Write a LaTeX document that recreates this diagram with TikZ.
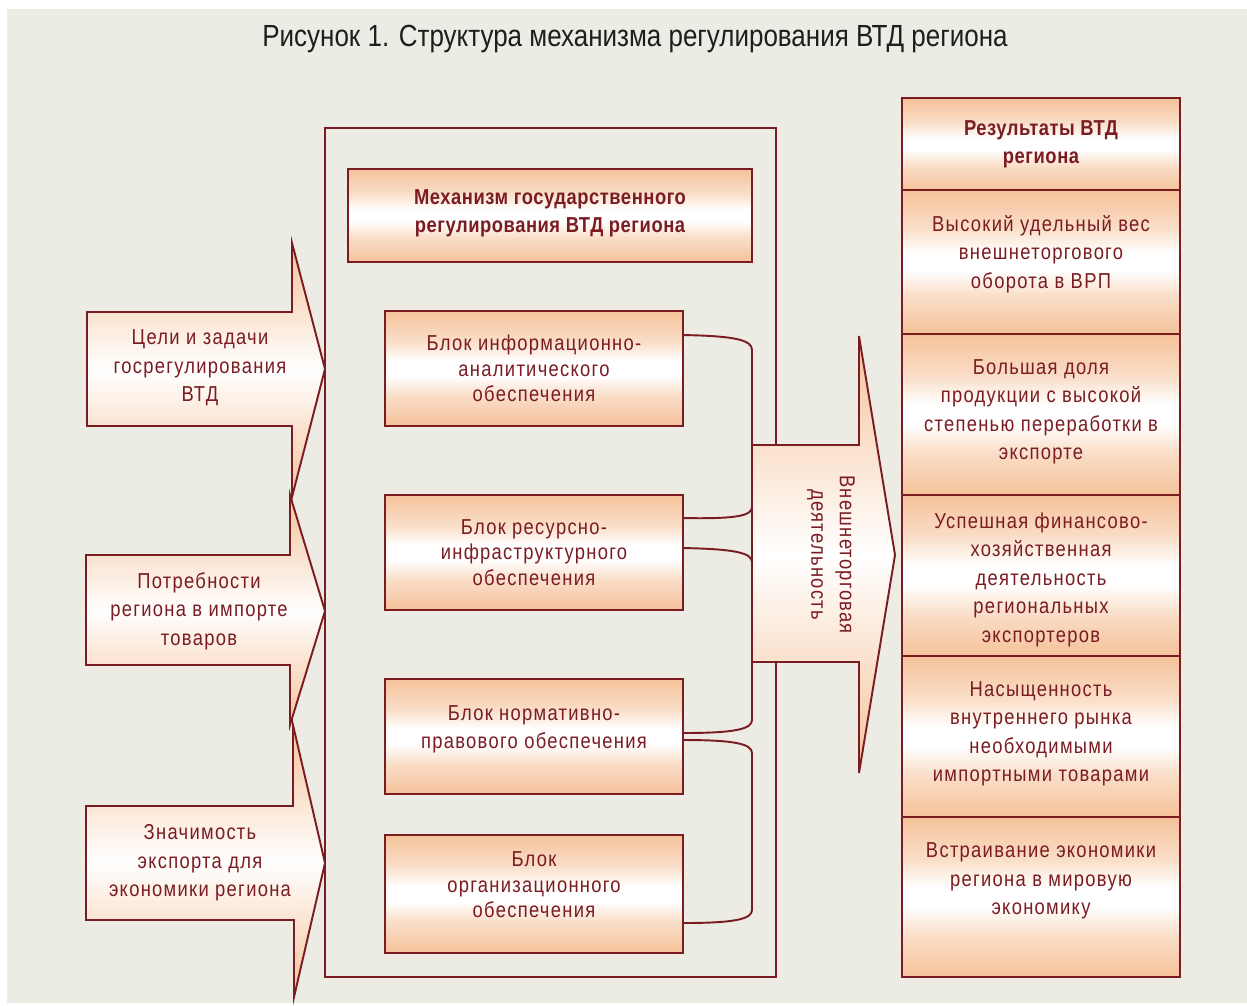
\documentclass[tikz,border=0pt]{standalone}
\usepackage{fontspec}
\setmainfont[FakeStretch=0.85]{Liberation Sans}
\newfontfamily\boxfont[FakeStretch=0.85,LetterSpace=6]{Liberation Sans}
\newfontfamily\headfont[FakeStretch=0.85,LetterSpace=2.5]{Liberation Sans}

\definecolor{dred}{HTML}{7A1C22}
\definecolor{peach}{HTML}{F5C29A}
\definecolor{bgbeige}{HTML}{ECECE4}
\definecolor{titlegray}{HTML}{1E1E1E}

\pgfdeclareverticalshading{peachband}{100bp}{color(0bp)=(peach); color(25bp)=(peach);
  color(38bp)=(peach!55!white); color(47bp)=(white); color(53bp)=(white);
  color(62bp)=(peach!55!white); color(75bp)=(peach); color(100bp)=(peach)}

\tikzset{
  box/.style={draw=dred, line width=1.1pt, shading=peachband, text=dred,
    align=center, inner sep=0pt, font=\boxfont\fontsize{12.3}{16.2}\selectfont},
  blockbox/.style={box, minimum width=5.96cm, minimum height=2.3cm,
    font=\boxfont\fontsize{12.3}{14.6}\selectfont},
  resbox/.style={box, minimum width=5.56cm},
  headbox/.style={box, font=\headfont\bfseries\fontsize{12.3}{16}\selectfont},
  goalarrow/.style={draw=dred, line width=1.1pt, top color=peach,
    bottom color=peach, middle color=white},
  boxtext/.style={text=dred, align=center, font=\boxfont\fontsize{12.3}{16.2}\selectfont},
  link/.style={draw=dred, line width=1.1pt}
}

\begin{document}
\begin{tikzpicture}[x=0.02cm, y=-0.02cm]
    \useasboundingbox (0,0) rectangle (1247,1005);
    \fill[bgbeige] (7,9) rectangle (1247,1003);

    \node[text=titlegray, font=\fontsize{17.4}{20}\selectfont] (title) at (635,39)
        {Рисунок 1. Структура механизма регулирования ВТД региона};

    % left arrows
    \path[goalarrow] (87,312) -- (292,312) -- (292,243) -- (325,369) -- (292,497) -- (292,426) -- (87,426) -- cycle;
    \path[goalarrow] (86,555) -- (290,555) -- (290,495) -- (325,611) -- (290,725) -- (290,665) -- (86,665) -- cycle;
    \path[goalarrow] (86,806) -- (293,806) -- (293,725) -- (325,863) -- (294,997) -- (294,920) -- (86,920) -- cycle;
    \node[boxtext] (goals) at (200,368) {Цели и задачи\\госрегулирования\\ВТД};
    \node[boxtext] (needs) at (199,611) {Потребности\\региона в импорте\\товаров};
    \node[boxtext] (value) at (200,863) {Значимость\\экспорта для\\экономики региона};

    % mechanism frame and blocks
    \node[draw=dred, line width=1.1pt, minimum width=9.02cm, minimum height=16.98cm] (frame) at (550.5,552.5) {};
    \node[headbox, minimum width=8.08cm, minimum height=1.86cm] (mech) at (550,215.5) {};
    \node[text=dred, align=center, font=\headfont\bfseries\fontsize{12.3}{16}\selectfont] (mech text) at (550,213)
        {Механизм государственного\\регулирования ВТД региона};
    \node[blockbox] (info) at (534,368.5) {Блок информационно-\\аналитического\\обеспечения};
    \node[blockbox] (infra) at (534,552.5) {Блок ресурсно-\\инфраструктурного\\обеспечения};
    \node[blockbox] (law) at (534,736.5) {};
    \node[boxtext, font=\boxfont\fontsize{12.3}{16}\selectfont] (law text) at (534,729)
        {Блок нормативно-\\правового обеспечения};
    \node[blockbox, minimum height=2.36cm] (org) at (534,894) {};
    \node[boxtext, font=\boxfont\fontsize{12.3}{14.6}\selectfont] (org text) at (534,885)
        {Блок\\организационного\\обеспечения};

    % braces between blocks
    \draw[link] ([yshift=-0.5cm]info.north east) .. controls (735,336) and (752,340) .. (752,350)
        -- (752,507) .. controls (752,516) and (735,519) .. ([yshift=-0.48cm]infra.north east);
    \draw[link] ([yshift=-1.08cm]infra.north east) .. controls (735,549) and (752,553) .. (752,562)
        -- (752,720) .. controls (752,729) and (735,733) .. ([yshift=0.07cm]law.east);
    \draw[link] ([yshift=-0.07cm]law.east) .. controls (735,740) and (752,744) .. (752,753)
        -- (752,910) .. controls (752,919) and (735,923) .. ([yshift=-0.58cm]org.east);

    % trade arrow
    \path[goalarrow] (752,445) -- (859,445) -- (859,336) -- (895,555) -- (859,773) -- (859,662) -- (752,662) -- cycle;
    \node[boxtext, rotate=-90] (trade) at (831,554.5) {Внешнеторговая\\деятельность};

    % results column
    \node[resbox, headbox, minimum height=1.84cm] (res) at (1041,144) {Результаты ВТД\\региона};
    \node[resbox, minimum height=2.88cm] (share) at (1041,262) {};
    \node[resbox, minimum height=3.22cm] (deep) at (1041,414.5) {};
    \node[resbox, minimum height=3.22cm] (firms) at (1041,575.5) {};
    \node[resbox, minimum height=3.22cm] (market) at (1041,736.5) {};
    \node[resbox, minimum height=3.2cm] (world) at (1041,897) {};
    \node[boxtext] (share text) at (1041,254) {Высокий удельный вес\\внешнеторгового\\оборота в ВРП};
    \node[boxtext] (deep text) at (1041,412) {Большая доля\\продукции с высокой\\степенью переработки в\\экспорте};
    \node[boxtext] (firms text) at (1041,579.5) {Успешная финансово-\\хозяйственная\\деятельность\\региональных\\экспортеров};
    \node[boxtext] (market text) at (1041,734) {Насыщенность\\внутреннего рынка\\необходимыми\\импортными товарами};
    \node[boxtext] (world text) at (1041,881) {Встраивание экономики\\региона в мировую\\экономику};
\end{tikzpicture}
\end{document}
